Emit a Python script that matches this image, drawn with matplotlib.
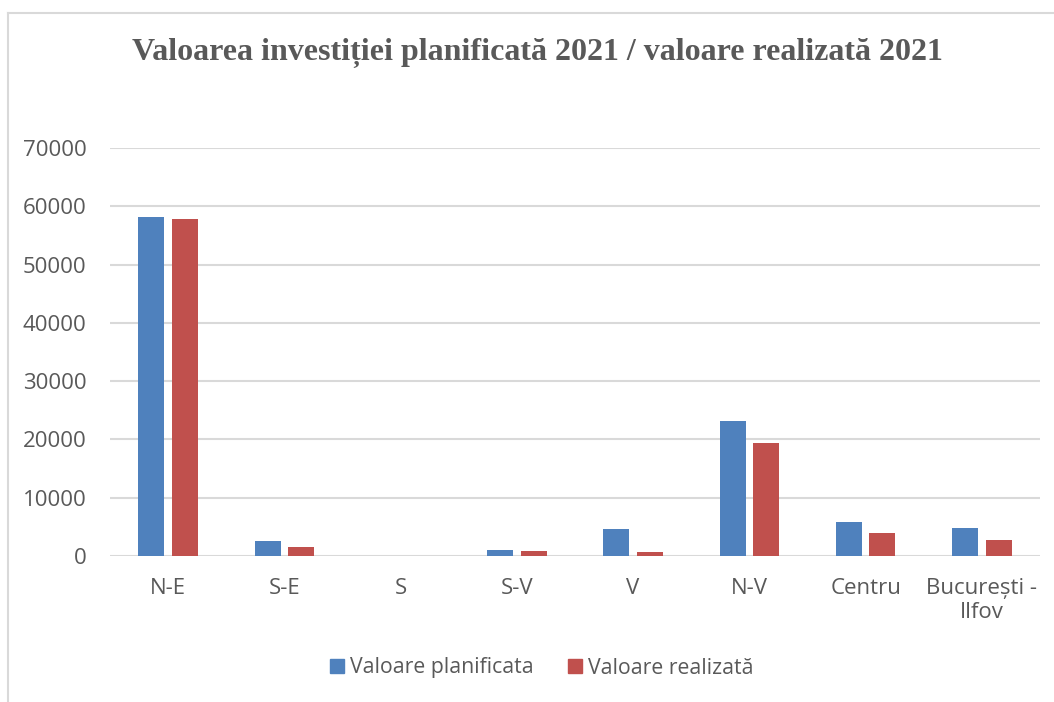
import matplotlib
matplotlib.use("Agg")
import matplotlib.pyplot as plt
import numpy as np
from matplotlib.patches import Rectangle
from matplotlib.lines import Line2D

categories = ["N-E", "S-E", "S", "S-V", "V", "N-V", "Centru", "București -\nIlfov"]
planned = [58150, 2570, 0, 1000, 4630, 23150, 5880, 4750]
realized = [57800, 1550, 0, 780, 740, 19330, 3940, 2740]
series_names = ["Valoare planificata", "Valoare realizată"]
title = "Valoarea investiției planificată 2021 / valoare realizată 2021"
yticks = [0, 10000, 20000, 30000, 40000, 50000, 60000, 70000]

BLUE = "#4F81BD"
RED = "#C0504D"
GRID = "#D9D9D9"
TXT = "#595959"
SANS = ["Open Sans", "DejaVu Sans"]

fig = plt.figure(figsize=(10.54, 7.02), dpi=100)
ax = fig.add_axes([110/1054, 1-556/702, 930/1054, (556-148)/702])

x = np.arange(len(categories))
w = 0.224
off = 0.144
ax.bar(x - off, planned, w, color=BLUE, zorder=3, label=series_names[0])
ax.bar(x + off, realized, w, color=RED, zorder=3, label=series_names[1])

ax.set_xlim(-0.5, len(categories) - 0.5)
ax.set_ylim(0, 70000)
ax.set_yticks(yticks)
ax.set_yticklabels([str(v) for v in yticks], fontsize=16, color=TXT, family=SANS)
ax.set_xticks(x)
ax.set_xticklabels(categories, fontsize=16, color=TXT, family=SANS, linespacing=1.2)
ax.tick_params(axis="both", length=0)
ax.tick_params(axis="x", pad=16)
ax.tick_params(axis="y", pad=17)
ax.yaxis.grid(True, color=GRID, linewidth=1.5, zorder=0)
ax.set_axisbelow(True)
for s in ax.spines.values():
    s.set_visible(False)

fig.text(537.5/1054, 1 - 53/702, title, ha="center", va="center", fontsize=23,
         fontweight="bold", color=TXT, family=["Liberation Serif", "DejaVu Serif"])

handles = [Rectangle((0, 0), 1, 1, color=BLUE), Rectangle((0, 0), 1, 1, color=RED)]
leg = fig.legend(handles, series_names, loc="center", bbox_to_anchor=(542/1054, 1 - 668/702),
                 ncol=2, frameon=False, prop={"family": SANS, "size": 15.3},
                 handlelength=0.65, handleheight=0.65, handletextpad=0.3, columnspacing=1.6)
for t in leg.get_texts():
    t.set_color(TXT)

fig.add_artist(Line2D([8/1054, 8/1054], [0, 1 - 12.5/702], color=GRID, linewidth=1.5,
                      transform=fig.transFigure))
fig.add_artist(Line2D([8/1054, 1], [1 - 12.5/702, 1 - 12.5/702], color=GRID, linewidth=1.5,
                      transform=fig.transFigure))

fig.savefig("out.png", dpi=100)
